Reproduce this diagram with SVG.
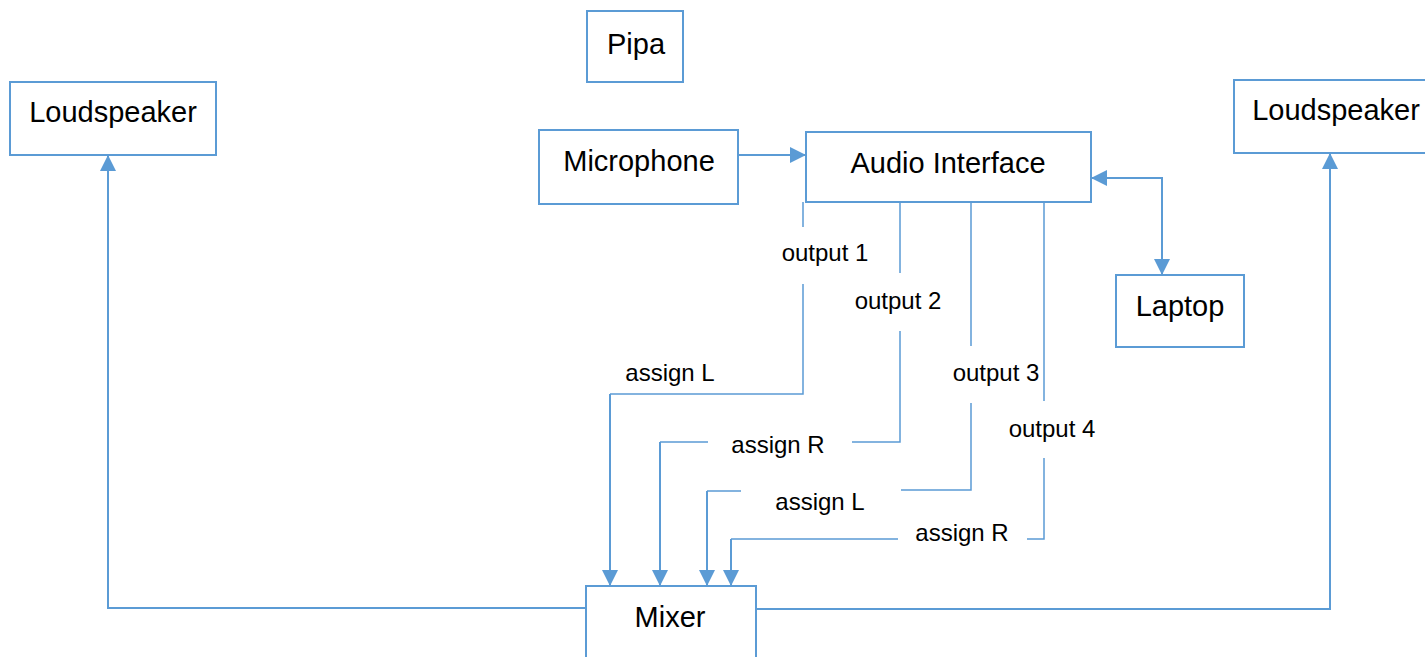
<svg xmlns="http://www.w3.org/2000/svg" width="1425" height="657" viewBox="0 0 1425 657">
<style>
.box{fill:#fff;stroke:#5B9BD5;stroke-width:2}
.lbl{font-family:"Liberation Sans",Arial,sans-serif;font-size:29px;fill:#000;text-anchor:middle}
.sm{font-family:"Liberation Sans",Arial,sans-serif;font-size:24px;fill:#000;text-anchor:middle}
.ln{fill:none;stroke:#5B9BD5;stroke-width:1.5}
.ar{fill:none;stroke:#5B9BD5;stroke-width:2}
</style>
<defs>
<marker id="ah" markerUnits="userSpaceOnUse" markerWidth="16" markerHeight="16" refX="16" refY="8" orient="auto-start-reverse" viewBox="0 0 16 16">
<path d="M0,0 L16,8 L0,16 z" fill="#5B9BD5"/>
</marker>
</defs>
<rect width="1425" height="657" fill="#fff"/>
<g id="connectors">
<path class="ar" d="M733,155 H806" marker-end="url(#ah)"/>
<path class="ar" d="M1091,178 H1162 V275" marker-start="url(#ah)" marker-end="url(#ah)"/>
<path class="ar" d="M586,608 H108 V155" marker-end="url(#ah)"/>
<path class="ar" d="M756,609 H1330 V153" marker-end="url(#ah)"/>
<path class="ln" d="M803,202 V227 M803,284 V394 H610"/>
<path class="ar" d="M610,394 V586" marker-end="url(#ah)"/>
<path class="ln" d="M900,202 V273 M900,331 V442 H852 M708,442 H660"/>
<path class="ar" d="M660,442 V586" marker-end="url(#ah)"/>
<path class="ln" d="M971,202 V346 M971,403 V490 H901 M741,491 H707"/>
<path class="ar" d="M707,491 V586" marker-end="url(#ah)"/>
<path class="ln" d="M1044,202 V401 M1044,458 V539 H1027 M898,539 H731"/>
<path class="ar" d="M731,539 V586" marker-end="url(#ah)"/>
<text class="sm" x="825" y="261">output 1</text>
<text class="sm" x="898" y="309">output 2</text>
<text class="sm" x="996" y="381">output 3</text>
<text class="sm" x="1052" y="437">output 4</text>
<text class="sm" x="670" y="381">assign L</text>
<text class="sm" x="778" y="453">assign R</text>
<text class="sm" x="820" y="510">assign L</text>
<text class="sm" x="962" y="541">assign R</text>
</g>
<g id="pipa"><rect class="box" x="587" y="11" width="96" height="71"/><text class="lbl" x="636" y="54">Pipa</text></g>
<g id="loudspeaker-left"><rect class="box" x="10" y="82" width="206" height="73"/><text class="lbl" x="113" y="122">Loudspeaker</text></g>
<g id="loudspeaker-right"><rect class="box" x="1234" y="80" width="200" height="73"/><text class="lbl" x="1336" y="120">Loudspeaker</text></g>
<g id="microphone"><rect class="box" x="539" y="130" width="199" height="74"/><text class="lbl" x="639" y="171">Microphone</text></g>
<g id="audio-interface"><rect class="box" x="806" y="132" width="285" height="70"/><text class="lbl" x="948" y="173">Audio Interface</text></g>
<g id="laptop"><rect class="box" x="1116" y="275" width="128" height="72"/><text class="lbl" x="1180" y="316">Laptop</text></g>
<g id="mixer"><rect class="box" x="586" y="586" width="170" height="80"/><text class="lbl" x="670" y="627">Mixer</text></g>
</svg>
